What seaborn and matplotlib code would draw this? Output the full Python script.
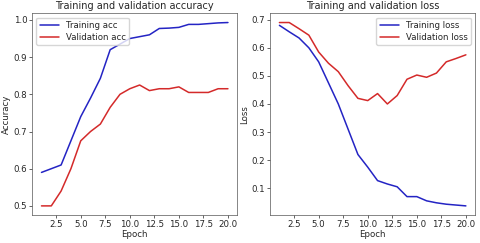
import matplotlib
matplotlib.use("Agg")
import matplotlib.pyplot as plt
import seaborn as sns
import pandas as pd

epochs = list(range(1, 21))
train_acc = [0.59, 0.60, 0.61, 0.675, 0.74, 0.79, 0.843, 0.92, 0.935, 0.95,
             0.955, 0.96, 0.977, 0.978, 0.98, 0.988, 0.988, 0.99, 0.992, 0.993]
val_acc = [0.50, 0.50, 0.54, 0.60, 0.675, 0.70, 0.72, 0.765, 0.80, 0.815,
           0.825, 0.81, 0.815, 0.815, 0.82, 0.805, 0.805, 0.805, 0.815, 0.815]
train_loss = [0.68, 0.657, 0.635, 0.60, 0.55, 0.475, 0.40, 0.31, 0.22, 0.175,
              0.127, 0.115, 0.105, 0.07, 0.07, 0.055, 0.048, 0.043, 0.04, 0.037]
val_loss = [0.69, 0.69, 0.668, 0.645, 0.585, 0.545, 0.515, 0.465, 0.42, 0.412,
            0.437, 0.40, 0.43, 0.488, 0.503, 0.495, 0.51, 0.55, 0.562, 0.575]

sns.set_style("ticks")
plt.rcParams['font.family'] = ['DejaVu Sans']
plt.rcParams['font.size'] = 6

blue = '#2424c4'
red = '#d42a2a'
fs = 6.2

fig, axes = plt.subplots(1, 2, figsize=(4.8, 2.43), dpi=100)

df_acc = pd.DataFrame({'Epoch': epochs + epochs,
                       'value': train_acc + val_acc,
                       'series': ['Training acc'] * 20 + ['Validation acc'] * 20})
df_loss = pd.DataFrame({'Epoch': epochs + epochs,
                        'value': train_loss + val_loss,
                        'series': ['Training loss'] * 20 + ['Validation loss'] * 20})

ax = axes[0]
sns.lineplot(data=df_acc, x='Epoch', y='value', hue='series',
             palette=[blue, red], ax=ax, linewidth=1.1)
ax.set_title('Training and validation accuracy', fontsize=7, pad=3)
ax.set_xlabel('Epoch', fontsize=fs, labelpad=1)
ax.set_ylabel('Accuracy', fontsize=fs, labelpad=2)
ax.legend(loc='upper left', fontsize=fs, handlelength=2.2, borderpad=0.4,
          labelspacing=0.3, frameon=True)
ax.set_xticks([2.5, 5.0, 7.5, 10.0, 12.5, 15.0, 17.5, 20.0])
ax.set_yticks([0.5, 0.6, 0.7, 0.8, 0.9, 1.0])

ax = axes[1]
sns.lineplot(data=df_loss, x='Epoch', y='value', hue='series',
             palette=[blue, red], ax=ax, linewidth=1.1)
ax.set_title('Training and validation loss', fontsize=7, pad=3)
ax.set_xlabel('Epoch', fontsize=fs, labelpad=1)
ax.set_ylabel('Loss', fontsize=fs, labelpad=2)
ax.legend(loc='upper right', fontsize=fs, handlelength=2.2, borderpad=0.4,
          labelspacing=0.3, frameon=True)
ax.set_xticks([2.5, 5.0, 7.5, 10.0, 12.5, 15.0, 17.5, 20.0])
ax.set_yticks([0.1, 0.2, 0.3, 0.4, 0.5, 0.6, 0.7])

for ax in axes:
    ax.tick_params(labelsize=fs, length=2, pad=1.5, width=0.5)
    for s in ax.spines.values():
        s.set_linewidth(0.5)
        s.set_edgecolor('#555555')
        s.set_visible(True)

fig.subplots_adjust(left=0.067, right=0.99, top=0.945, bottom=0.115, wspace=0.16)
fig.savefig('out.png', dpi=100)
